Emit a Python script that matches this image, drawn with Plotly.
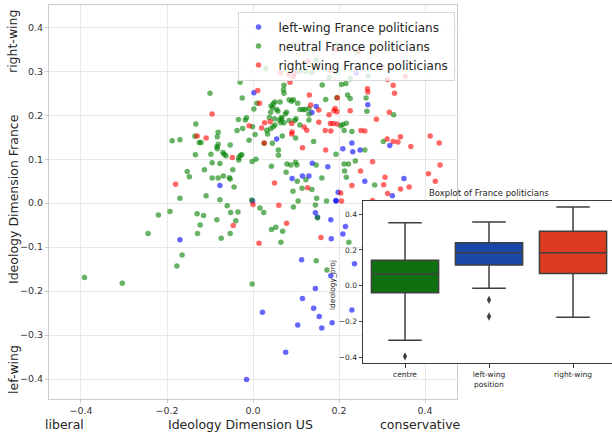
import plotly.graph_objects as go

# ---------------- data ----------------
left_pts = [(-0.077, 0.040), (0.002, 0.251), (-0.170, -0.083), (0.145, -0.022), (0.181, -0.038),
            (0.193, 0.005), (0.182, -0.081), (0.113, -0.129), (0.145, -0.194), (0.115, -0.217),
            (0.022, -0.248), (0.141, -0.239), (0.104, -0.277), (0.154, -0.258), (0.160, -0.284),
            (0.184, -0.272), (0.076, -0.339), (-0.015, -0.401), (0.181, -0.165), (0.215, -0.053),
            (0.209, -0.070), (0.236, -0.138), (0.230, -0.243), (0.240, 0.296), (0.267, 0.224),
            (0.147, 0.220), (0.137, 0.206), (0.055, 0.146), (0.209, 0.124), (0.230, 0.137),
            (0.232, 0.117), (0.249, 0.121), (0.138, 0.091), (0.174, 0.083), (0.091, 0.056),
            (0.115, 0.062), (0.130, 0.062), (0.260, 0.050), (0.198, 0.025), (0.193, 0.006),
            (0.150, -0.032), (0.318, 0.131), (0.351, 0.056), (0.324, 0.017), (-0.001, 0.005)]

neutral_pts = [(-0.100, 0.250), (-0.133, 0.180), (-0.135, 0.152), (-0.081, 0.161), (-0.188, 0.142),
               (-0.170, 0.144), (-0.125, 0.138), (-0.121, 0.138), (-0.083, 0.151), (-0.081, 0.134),
               (-0.084, 0.128), (-0.053, 0.132), (-0.134, 0.110), (-0.098, 0.111), (-0.070, 0.115),
               (-0.067, 0.111), (-0.063, 0.108), (-0.033, 0.104), (-0.095, 0.092), (-0.077, 0.090),
               (-0.113, 0.076), (-0.047, 0.076), (-0.153, 0.072), (-0.148, 0.060), (-0.095, 0.057),
               (-0.081, 0.057), (-0.069, 0.062), (-0.055, 0.058), (-0.053, 0.055), (-0.044, 0.037),
               (-0.109, 0.017), (-0.170, 0.011), (-0.077, 0.008), (-0.060, -0.006), (-0.030, 0.275),
               (-0.034, 0.190), (-0.037, 0.165), (-0.220, -0.027), (-0.193, -0.019), (-0.130, -0.024),
               (-0.115, -0.028), (-0.084, -0.038), (-0.052, -0.021), (-0.035, -0.020), (-0.244, -0.069),
               (-0.123, -0.050), (-0.129, -0.069), (-0.074, -0.080), (-0.040, -0.040), (-0.053, -0.069),
               (0.016, -0.011), (0.025, -0.021), (0.094, -0.009), (0.105, 0.005), (0.145, -0.004),
               (0.171, 0.005), (0.150, -0.033), (0.043, -0.060), (0.053, -0.055), (0.069, -0.064),
               (0.065, -0.089), (-0.165, -0.118), (-0.177, -0.143), (-0.392, -0.169), (-0.304, -0.182),
               (-0.002, -0.184), (0.147, -0.131), (0.172, -0.152), (0.223, -0.089), (-0.025, 0.239),
               (0.009, 0.227), (0.002, 0.214), (-0.018, 0.189), (-0.015, 0.194), (-0.001, 0.174),
               (-0.024, 0.170), (0.005, 0.156), (-0.009, 0.143), (-0.083, 0.124), (-0.029, 0.109),
               (-0.026, 0.110), (-0.033, 0.098), (-0.002, 0.095), (0.007, 0.100), (-0.003, 0.007),
               (0.030, 0.306), (0.108, 0.300), (0.123, 0.300), (0.137, 0.297), (0.196, 0.297),
               (0.072, 0.268), (0.071, 0.258), (0.072, 0.250), (0.161, 0.269), (0.177, 0.286),
               (0.226, 0.283), (0.216, 0.272), (0.206, 0.270), (0.169, 0.236), (0.195, 0.240),
               (0.220, 0.246), (0.226, 0.238), (0.051, 0.230), (0.047, 0.226), (0.042, 0.221),
               (0.046, 0.217), (0.041, 0.207), (0.084, 0.235), (0.090, 0.232), (0.094, 0.235),
               (0.063, 0.230), (0.265, 0.209), (0.104, 0.227), (0.109, 0.213), (0.116, 0.213),
               (0.121, 0.213), (0.130, 0.215), (0.055, 0.213), (0.058, 0.209), (0.078, 0.207),
               (0.075, 0.203), (0.066, 0.195), (0.038, 0.195), (0.050, 0.192), (0.061, 0.189),
               (0.067, 0.192), (0.065, 0.183), (0.072, 0.183), (0.084, 0.188), (0.097, 0.188),
               (0.100, 0.192), (0.130, 0.203), (0.130, 0.189), (0.204, 0.176), (0.209, 0.179),
               (0.217, 0.182), (0.109, 0.178), (0.051, 0.178), (0.047, 0.174), (0.041, 0.169),
               (0.032, 0.166), (0.034, 0.157), (0.068, 0.153), (0.212, 0.165), (0.230, 0.163),
               (0.045, 0.136), (0.026, 0.136), (0.099, 0.148), (0.141, 0.140), (0.059, 0.121),
               (0.059, 0.109), (0.193, 0.111), (0.238, 0.096), (0.043, 0.084), (0.079, 0.089),
               (0.088, 0.087), (0.099, 0.093), (0.102, 0.087), (0.147, 0.087), (0.212, 0.089),
               (0.222, 0.089), (0.077, 0.070), (0.103, 0.050), (0.123, 0.053), (0.160, 0.057),
               (0.213, 0.073), (0.217, 0.059), (0.093, 0.027), (0.114, 0.034), (0.137, 0.031),
               (0.148, 0.011), (0.268, 0.290), (0.263, 0.239), (0.327, 0.201), (0.303, 0.140),
               (0.260, 0.121), (0.283, 0.041), (0.097, 0.361), (0.195, 0.359), (0.147, 0.325),
               (0.241, 0.344)]

right_pts = [(-0.095, 0.203), (-0.130, 0.153), (-0.109, 0.148), (-0.048, 0.104), (-0.180, 0.043),
             (-0.046, -0.051), (0.000, -0.003), (0.060, -0.005), (0.206, 0.005), (0.078, -0.046),
             (0.014, -0.091), (0.158, -0.078), (0.011, 0.256), (0.015, 0.227), (-0.009, 0.176),
             (0.064, 0.296), (0.083, 0.292), (0.094, 0.288), (0.096, 0.296), (0.086, 0.275),
             (0.179, 0.302), (0.266, 0.260), (0.267, 0.253), (0.131, 0.246), (0.196, 0.240),
             (0.134, 0.223), (0.153, 0.212), (0.191, 0.215), (0.195, 0.208), (0.188, 0.210),
             (0.226, 0.210), (0.027, 0.183), (0.040, 0.185), (0.153, 0.184), (0.177, 0.201),
             (0.180, 0.181), (0.186, 0.181), (0.195, 0.180), (0.090, 0.181), (0.091, 0.162),
             (0.090, 0.157), (0.020, 0.171), (0.119, 0.173), (0.125, 0.166), (0.168, 0.165),
             (0.181, 0.164), (0.251, 0.165), (0.026, 0.137), (0.115, 0.126), (0.169, 0.121),
             (0.050, 0.046), (0.250, 0.073), (0.230, 0.040), (0.127, 0.035), (0.204, 0.023),
             (0.313, 0.281), (0.354, 0.288), (0.326, 0.268), (0.329, 0.250), (0.317, 0.207),
             (0.287, 0.191), (0.260, 0.164), (0.412, 0.153), (0.433, 0.137), (0.312, 0.146),
             (0.326, 0.140), (0.337, 0.139), (0.343, 0.151), (0.367, 0.129), (0.278, 0.094),
             (0.435, 0.087), (0.408, 0.067), (0.424, 0.050), (0.307, 0.059), (0.304, 0.042),
             (0.343, 0.032), (0.363, 0.037), (0.313, 0.022), (0.278, 0.006), (0.128, 0.323),
             (0.247, 0.346), (0.300, 0.309), (0.193, 0.350)]

series_names = ["left-wing France politicians", "neutral France politicians",
                "right-wing France politicians"]
series_colors = ["rgba(0,0,255,0.6)", "rgba(0,128,0,0.6)", "rgba(255,0,0,0.6)"]

box_categories = ["centre", "left-wing", "right-wing"]
box_lowerfence = [-0.303, -0.013, -0.175]
box_q1 = [-0.039, 0.116, 0.069]
box_median = [0.067, 0.184, 0.184]
box_q3 = [0.143, 0.240, 0.304]
box_upperfence = [0.352, 0.356, 0.440]
box_colors = ["#107010", "#1a48a9", "#de3c20"]
outlier_cat = ["centre", "left-wing", "left-wing"]
outlier_val = [-0.393, -0.078, -0.171]

x_ticks = [-0.4, -0.2, 0.0, 0.2, 0.4]
y_ticks = [-0.4, -0.3, -0.2, -0.1, 0.0, 0.1, 0.2, 0.3, 0.4]
inset_y_ticks = [-0.4, -0.2, 0.0, 0.2, 0.4]

# ---------------- figure ----------------
W, H = 612, 432
FONT = "DejaVu Sans"

def px(x):
    return x / W

def py(y):
    return 1 - y / H

fig = go.Figure()

for pts, name, col in zip([left_pts, neutral_pts, right_pts], series_names, series_colors):
    xs = [p[0] for p in pts]
    ys = [p[1] for p in pts]
    fig.add_trace(go.Scatter(x=xs, y=ys, mode="markers", name=name,
                             marker=dict(size=5.5, color=col, line=dict(width=0)),
                             xaxis="x", yaxis="y", hoverinfo="skip"))

for i, cat in enumerate(box_categories):
    fig.add_trace(go.Box(x=[cat], q1=[box_q1[i]], median=[box_median[i]], q3=[box_q3[i]],
                         lowerfence=[box_lowerfence[i]], upperfence=[box_upperfence[i]],
                         fillcolor=box_colors[i], line=dict(color="#3f3f3f", width=1.5),
                         width=0.8, whiskerwidth=0.5, boxpoints=False, showlegend=False,
                         xaxis="x2", yaxis="y2", hoverinfo="skip"))

fig.add_trace(go.Scatter(x=outlier_cat, y=outlier_val, mode="markers", showlegend=False,
                         marker=dict(symbol="diamond-tall", size=6, color="#3f3f3f"),
                         xaxis="x2", yaxis="y2", hoverinfo="skip"))

# white background of the inset (drawn in the inset's own layer, above the main plot)
fig.add_shape(type="rect", xref="x2", yref="y2", x0=-0.6, x1=2.7, y0=-0.6, y1=0.6,
              fillcolor="white", line=dict(width=0), layer="below")

tickfont = dict(family=FONT, size=9.5, color="#333333")
fig.update_layout(
    width=W, height=H, margin=dict(l=0, r=0, t=0, b=0),
    paper_bgcolor="white", plot_bgcolor="white",
    font=dict(family=FONT, color="#262626"),
    showlegend=True,
    legend=dict(x=px(237.5), y=py(11.5), xanchor="left", yanchor="top",
                bgcolor="rgba(255,255,255,0.8)", bordercolor="#d8d8d8", borderwidth=1,
                font=dict(family=FONT, size=12, color="#262626")),
    xaxis=dict(domain=[px(49), px(457)], range=[-0.4744, 0.4744], anchor="y",
               tickvals=x_ticks, tickformat=".1f", showgrid=True, gridcolor="#e8e8e8",
               zeroline=False, showline=True, mirror=True, linecolor="#cccccc",
               ticks="outside", ticklen=3, tickcolor="#cccccc", tickfont=tickfont),
    yaxis=dict(domain=[py(399), py(5)], range=[-0.4455, 0.4507], anchor="x",
               tickvals=y_ticks, tickformat=".1f", showgrid=True, gridcolor="#e8e8e8",
               zeroline=False, showline=True, mirror=True, linecolor="#cccccc",
               ticks="outside", ticklen=3, tickcolor="#cccccc", tickfont=tickfont),
    xaxis2=dict(domain=[px(363), 1.0], range=[-0.5, 2.464], anchor="y2", type="category",
                categoryorder="array", categoryarray=box_categories,
                showgrid=False, zeroline=False, showline=True, mirror=True,
                linecolor="#3a3a3a", linewidth=1, ticks="outside", ticklen=3.5,
                tickcolor="#3a3a3a", tickfont=dict(family=FONT, size=7.5, color="#262626")),
    yaxis2=dict(domain=[py(363), py(201)], range=[-0.43, 0.473], anchor="x2",
                tickvals=inset_y_ticks, tickformat=".1f", showgrid=False, zeroline=False,
                showline=True, mirror=False, linecolor="#3a3a3a", linewidth=1,
                ticks="outside", ticklen=3.5, tickcolor="#3a3a3a",
                tickfont=dict(family=FONT, size=7.5, color="#262626")),
)

ann = []
def add_text(text, x, y, size, angle=0):
    ann.append(dict(text=text, x=px(x), y=py(y), xref="paper", yref="paper",
                    xanchor="center", yanchor="middle", showarrow=False, textangle=angle,
                    font=dict(family=FONT, size=size, color="#262626")))

add_text("liberal", 64, 424, 12.5)
add_text("Ideology Dimension US", 240, 424, 12.5)
add_text("conservative", 420, 424, 12.5)
add_text("right-wing", 13, 42, 12.5, -90)
add_text("Ideology Dimension France", 13, 199, 12.5, -90)
add_text("lef-wing", 13, 370, 12.5, -90)
add_text("Boxplot of France politicians", 489, 193, 8.5)
add_text("ideology_proj", 332, 285, 7.5, -90)
add_text("position", 489, 384, 7.5)
fig.update_layout(annotations=ann)

fig.write_html("out.html")
